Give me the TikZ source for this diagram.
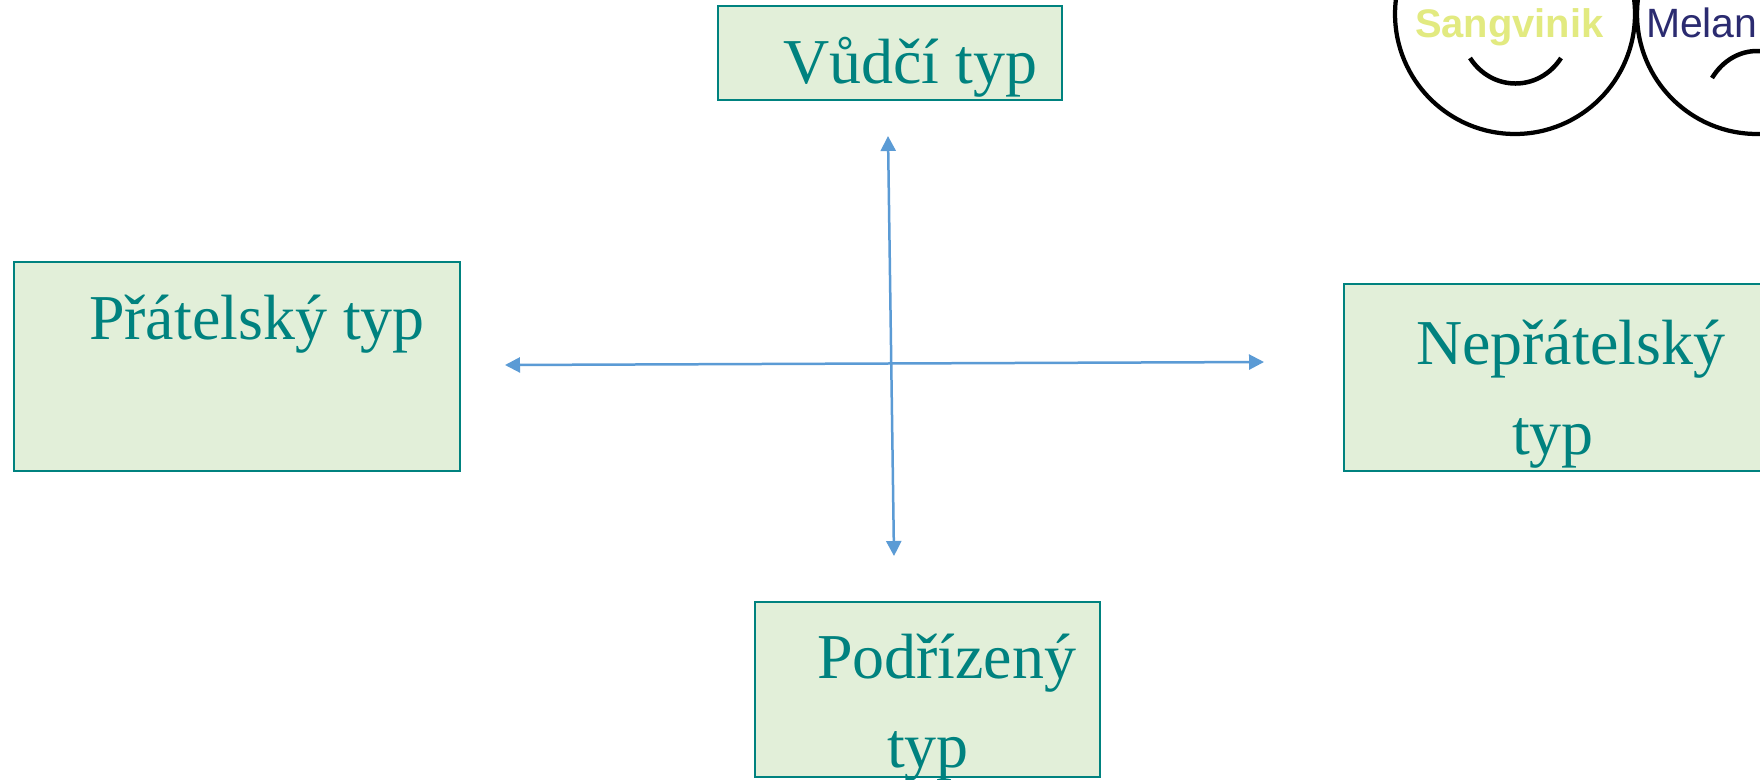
\documentclass[tikz,border=0pt]{standalone}
\usepackage{fontspec}
\setmainfont{Liberation Serif}
\setsansfont{Liberation Sans}
\usetikzlibrary{arrows.meta}
\definecolor{boxfill}{HTML}{E2EFD9}
\definecolor{boxline}{HTML}{00827F}
\definecolor{arrowblue}{HTML}{5B9BD5}
\definecolor{sangyellow}{HTML}{E2EA80}
\definecolor{melanblue}{HTML}{2B2B70}
\tikzset{
  typebox/.style={rectangle, draw=boxline, fill=boxfill, line width=0.055cm, anchor=north west, inner sep=0, outer sep=0},
  typetext/.style={anchor=base west, inner sep=0, outer sep=0, text=boxline, font=\fontsize{36.4}{40}\selectfont},
  axis/.style={{Triangle[length=0.3cm, width=0.3cm]}-{Triangle[length=0.3cm, width=0.3cm]}, draw=arrowblue, line width=0.05cm},
  face/.style={circle, draw=black, line width=0.085cm, minimum size=4.8cm, inner sep=0, outer sep=0},
  mouth/.style={draw=black, line width=0.09cm},
  facetext/.style={anchor=base west, inner sep=0, outer sep=0, font=\sffamily\fontsize{23.3}{26}\selectfont}
}
\begin{document}
\begin{tikzpicture}[x=0.02cm, y=-0.02cm]
  \clip (0, 0) rectangle (1760, 779);
  \fill[white] (0, 0) rectangle (1760, 779);

  \node[typebox, minimum width=6.88cm, minimum height=1.88cm] (vudci) at (718, 6) {};
  \node[typebox, minimum width=8.92cm, minimum height=4.18cm] (pratel) at (14, 262) {};
  \node[typebox, minimum width=8.4cm, minimum height=3.74cm] (nepratel) at (1344, 284) {};
  \node[typebox, minimum width=6.9cm, minimum height=3.5cm] (podrizeny) at (755, 602) {};

  \node[typetext] (vuditext) at (783, 83) {Vůdčí typ};
  \node[typetext] (prateltext) at (89, 339) {Přátelský typ};
  \node[typetext] (nepratext1) at (1416, 364) {Nepřátelský};
  \node[typetext] (nepratext2) at (1512, 454) {typ};
  \node[typetext] (podritext1) at (817, 678) {Podřízený};
  \node[typetext] (podritext2) at (887, 767) {typ};

  % cross
  \coordinate (west) at (505, 365);
  \coordinate (east) at (1264, 362);
  \coordinate (north) at (888, 136);
  \coordinate (south) at (894, 556);
  \draw[axis] (west) -- (east);
  \draw[axis] (north) -- (south);

  % faces
  \node[face] (sangface) at (1515, 14) {};
  \node[face] (melanface) at (1757, 14) {};
  \node[facetext, text=sangyellow, font=\sffamily\bfseries\fontsize{22.7}{26}\selectfont] (sangtext) at (1415, 37) {Sangvinik};
  \node[facetext, text=melanblue] (melantext) at (1646, 37) {Melan};
  \coordinate (smileL) at (1470, 58);
  \coordinate (smileR) at (1561, 58);
  \draw[mouth] (smileL) .. controls (1492, 92) and (1539, 92) .. (smileR);
  \coordinate (frownL) at (1712, 78);
  \coordinate (frownR) at (1802, 78);
  \draw[mouth] (frownL) .. controls (1734, 42) and (1780, 42) .. (frownR);
\end{tikzpicture}
\end{document}
